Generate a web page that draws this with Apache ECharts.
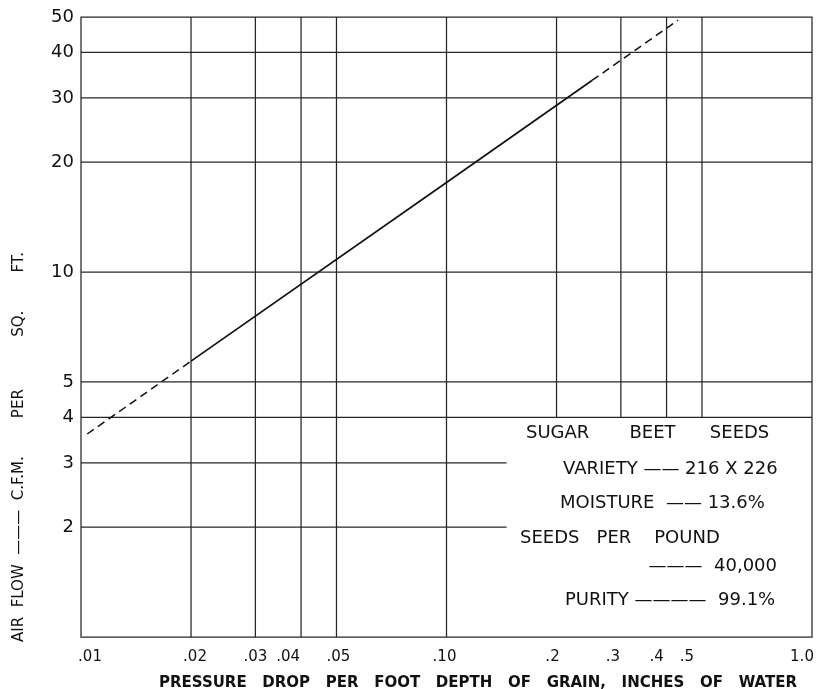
<!DOCTYPE html>
<html>
<head>
<meta charset="utf-8">
<script src="https://cdn.jsdelivr.net/npm/echarts@6/dist/echarts.min.js"></script>
<style>
  html, body { margin: 0; padding: 0; background: #ffffff; }
  #chart { width: 817px; height: 689px; }
</style>
</head>
<body>
<div id="chart"></div>
<script>
// ---- data ----
const xTickValues = [0.01, 0.02, 0.03, 0.04, 0.05, 0.1, 0.2, 0.3, 0.4, 0.5, 1.0];
const xTickLabels = ['.01', '.02', '.03', '.04', '.05', '.10', '.2', '.3', '.4', '.5', '1.0'];
const yTickValues = [2, 3, 4, 5, 10, 20, 30, 40, 50];
const yTickLabels = ['2', '3', '4', '5', '10', '20', '30', '40', '50'];

// rules of the log paper (horizontal: value and where it stops; vertical: value and where it starts)
const hRuleValues = [2, 3, 4, 5, 10, 20, 30, 40];
const hRuleEndX = [0.146, 0.146, 1, 1, 1, 1, 1, 1];
const vRuleValues = [0.02, 0.03, 0.04, 0.05, 0.1, 0.2, 0.3, 0.4, 0.5];
const vRuleStartY = [1, 1, 1, 1, 1, 4, 4, 4, 4];

// air-flow line (pressure drop, C.F.M. per sq. ft.)
const solidX = [0.02, 0.1, 0.25];
const solidY = [5.7, 17.6, 33.5];
const dashLowX = [0.0104, 0.02];
const dashLowY = [3.6, 5.7];
const dashHighX = [0.25, 0.43];
const dashHighY = [33.5, 49];

// ---- layout / style (not data) ----
const xLabelNudge = [9, 4, 0, -13, 2, -2, -4, -8, -10, -15, -10];
const FONT = '"DejaVu Sans", "Liberation Sans", sans-serif';
const INK = '#111111';
const RULE = '#262626';

const pairs = (xs, ys) => xs.map((x, i) => [x, ys[i]]);

const series = [];
hRuleValues.forEach((v, i) => {
  series.push({
    type: 'line', silent: true, symbol: 'none', animation: false, z: 1,
    lineStyle: { color: RULE, width: 1.25 },
    data: [[0.01, v], [hRuleEndX[i], v]]
  });
});
vRuleValues.forEach((v, i) => {
  series.push({
    type: 'line', silent: true, symbol: 'none', animation: false, z: 1,
    lineStyle: { color: RULE, width: 1.25 },
    data: [[v, vRuleStartY[i]], [v, 50]]
  });
});
series.push({
  type: 'line', silent: true, symbol: 'none', animation: false, z: 3,
  lineStyle: { color: '#111', width: 1.7 },
  data: pairs(solidX, solidY)
});
[[dashLowX, dashLowY], [dashHighX, dashHighY]].forEach(([xs, ys]) => {
  series.push({
    type: 'line', silent: true, symbol: 'none', animation: false, z: 3,
    lineStyle: { color: '#111', width: 1.5, type: [8, 5] },
    data: pairs(xs, ys)
  });
});
// tick labels placed through the axes' scales
series.push({
  type: 'scatter', silent: true, clip: false, symbolSize: 0, animation: false, z: 4,
  itemStyle: { opacity: 1 },
  data: xTickValues.map((v, i) => ({ value: [v, 1], label: { offset: [xLabelNudge[i], 0] } })),
  label: {
    show: true, position: 'bottom', distance: 13, opacity: 1,
    color: INK, fontFamily: FONT, fontSize: 15,
    formatter: p => xTickLabels[p.dataIndex]
  }
});
series.push({
  type: 'scatter', silent: true, clip: false, symbolSize: 0, animation: false, z: 4,
  itemStyle: { opacity: 1 },
  data: yTickValues.map(v => [0.01, v]),
  label: {
    show: true, position: 'left', distance: 7, opacity: 1,
    color: INK, fontFamily: FONT, fontSize: 18,
    formatter: p => yTickLabels[p.dataIndex]
  }
});

function txt(x, y, text, size, align, weight, rotation) {
  return {
    type: 'text', x: x, y: y, rotation: rotation || 0, silent: true, z: 10,
    style: {
      text: text, fill: INK,
      font: (weight || 'normal') + ' ' + size + 'px ' + FONT,
      textAlign: align, textVerticalAlign: 'middle',
      align: align, verticalAlign: 'middle'
    }
  };
}

const chart = echarts.init(document.getElementById('chart'), null, { renderer: 'canvas' });
chart.setOption({
  backgroundColor: '#ffffff',
  animation: false,
  grid: {
    left: 81, top: 17, width: 731, height: 620,
    show: true, borderColor: RULE, borderWidth: 1.25, backgroundColor: 'transparent'
  },
  xAxis: {
    type: 'log', logBase: 10, min: 0.01, max: 1,
    axisLine: { show: false }, axisTick: { show: false },
    axisLabel: { show: false }, splitLine: { show: false }, minorSplitLine: { show: false }
  },
  yAxis: {
    type: 'log', logBase: 10, min: 1, max: 50,
    axisLine: { show: false }, axisTick: { show: false },
    axisLabel: { show: false }, splitLine: { show: false }, minorSplitLine: { show: false }
  },
  series: series,
  graphic: [
    txt(478, 683, 'PRESSURE   DROP   PER   FOOT   DEPTH   OF   GRAIN,   INCHES   OF   WATER', 15, 'center', 'bold'),
    txt(19, 447, 'AIR  FLOW  ———  C.F.M.        PER           SQ.        FT.', 15, 'center', 'normal', Math.PI / 2),
    txt(526, 433, 'SUGAR       BEET      SEEDS', 18, 'left'),
    txt(563, 469, 'VARIETY —— 216 X 226', 18, 'left'),
    txt(560, 503, 'MOISTURE  —— 13.6%', 18, 'left'),
    txt(520, 538, 'SEEDS   PER    POUND', 18, 'left'),
    txt(777, 566, '———  40,000', 18, 'right'),
    txt(565, 600, 'PURITY ————  99.1%', 18, 'left')
  ]
});
</script>
</body>
</html>
